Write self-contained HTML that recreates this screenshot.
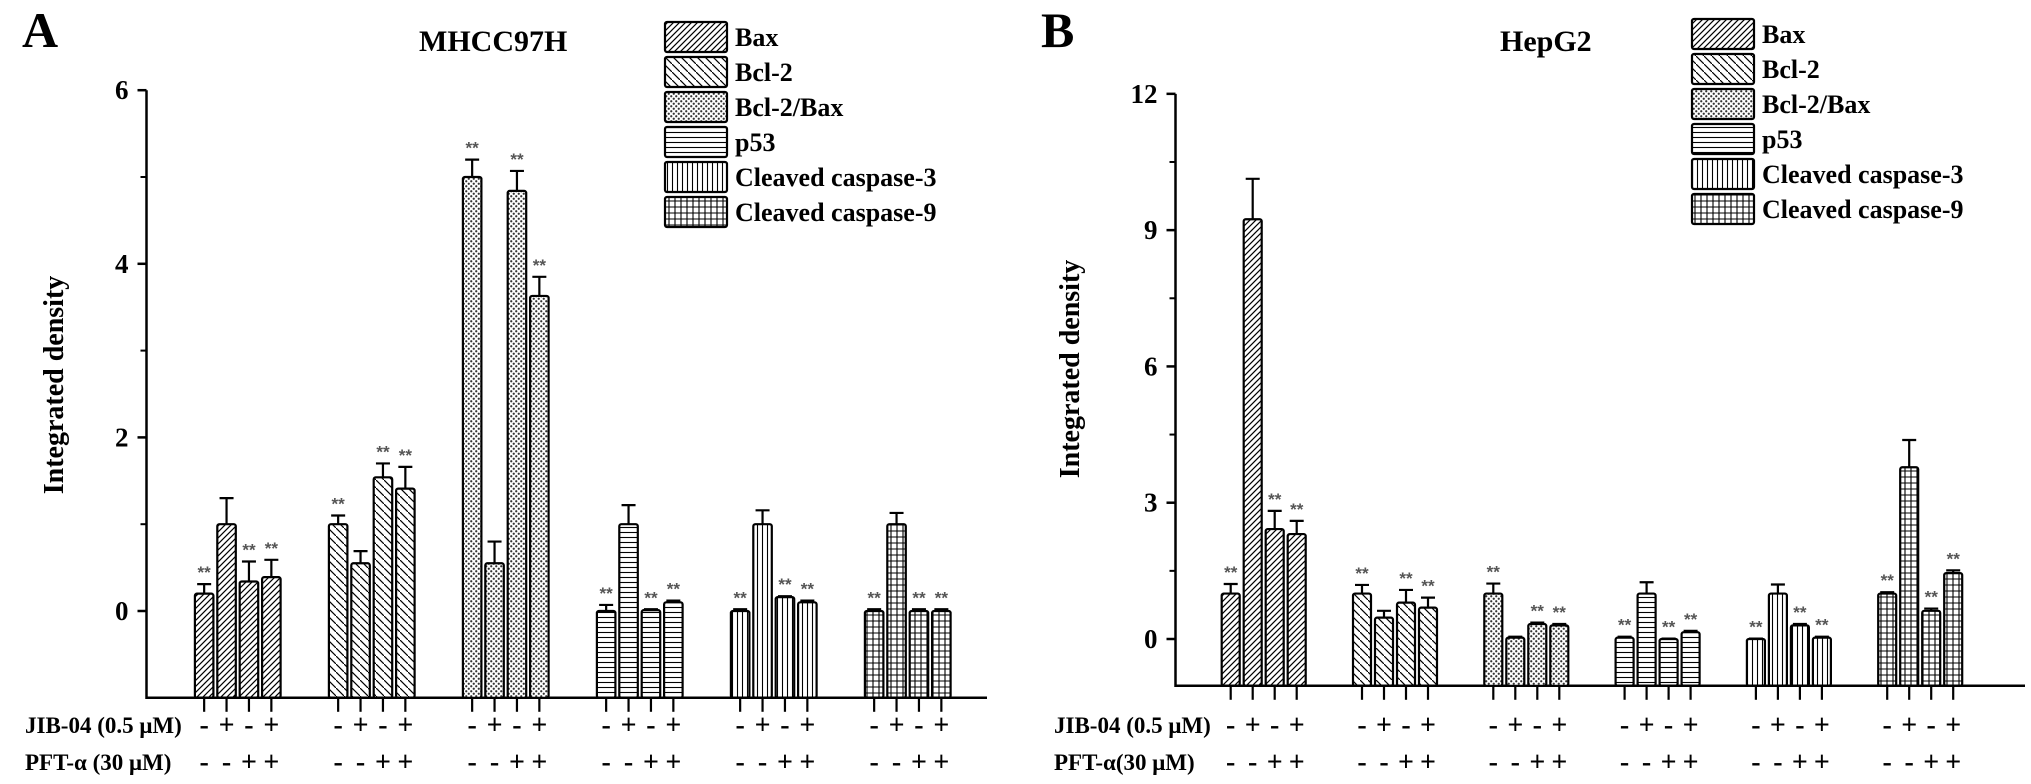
<!DOCTYPE html>
<html><head><meta charset="utf-8">
<style>
html,body{margin:0;padding:0;background:#fff;}
svg{display:block;font-family:"Liberation Serif",serif;font-weight:bold;}
</style></head>
<body>
<svg id="chart" width="2031" height="784" viewBox="0 0 2031 784" xmlns="http://www.w3.org/2000/svg">
<defs>
<pattern id="p0" patternUnits="userSpaceOnUse" width="6" height="6"><path d="M-1,1 l2,-2 M0,6 l6,-6 M5,7 l2,-2" stroke="#000" stroke-width="1.2"/></pattern>
<pattern id="p1" patternUnits="userSpaceOnUse" width="8" height="8"><path d="M-1,-1 l2,2 M0,0 l8,8 M7,9 l2,-2 M7,7 l2,2" stroke="#000" stroke-width="1.2"/></pattern>
<pattern id="p2" patternUnits="userSpaceOnUse" width="5" height="5"><rect width="5" height="5" fill="#fff"/><circle cx="1.25" cy="1.25" r="1.1" fill="#333"/><circle cx="3.75" cy="3.75" r="1.1" fill="#333"/></pattern>
<pattern id="p3" patternUnits="userSpaceOnUse" width="5" height="5"><path d="M0,2.5 h5" stroke="#000" stroke-width="1.1"/></pattern>
<pattern id="p4" patternUnits="userSpaceOnUse" width="5" height="5"><path d="M2.5,0 v5" stroke="#000" stroke-width="1.1"/></pattern>
<pattern id="p5" patternUnits="userSpaceOnUse" width="6" height="6"><path d="M3,0 v6 M0,3 h6" stroke="#000" stroke-width="1.1"/></pattern>
</defs>
<g id="root"></g>
</svg>
<script>
// ---- data ----
const seriesNames = ["Bax","Bcl-2","Bcl-2/Bax","p53","Cleaved caspase-3","Cleaved caspase-9"];
const jibSigns = ["-","+","-","+"];
const pftSigns = ["-","-","+","+"];
// Panel A (MHCC97H) values per group
const baxA   = [0.2, 1.0, 0.34, 0.39];
const bcl2A  = [1.0, 0.55, 1.54, 1.41];
const ratioA = [5.0, 0.55, 4.84, 3.63];
const p53A   = [0.0, 1.0, 0.01, 0.1];
const casp3A = [0.0, 1.0, 0.16, 0.1];
const casp9A = [0.0, 1.0, 0.0, 0.0];
const baxAErr   = [0.11, 0.3, 0.23, 0.2];
const bcl2AErr  = [0.1, 0.14, 0.16, 0.25];
const ratioAErr = [0.2, 0.25, 0.23, 0.22];
const p53AErr   = [0.07, 0.22, 0.01, 0.02];
const casp3AErr = [0.02, 0.16, 0.01, 0.02];
const casp9AErr = [0.02, 0.13, 0.02, 0.02];
// Panel B (HepG2)
const baxB   = [1.0, 9.24, 2.42, 2.31];
const bcl2B  = [1.0, 0.47, 0.8, 0.69];
const ratioB = [1.0, 0.03, 0.33, 0.3];
const p53B   = [0.03, 1.0, 0.0, 0.15];
const casp3B = [0.0, 1.0, 0.3, 0.03];
const casp9B = [1.0, 3.78, 0.62, 1.45];
const baxBErr   = [0.21, 0.89, 0.4, 0.29];
const bcl2BErr  = [0.19, 0.15, 0.28, 0.22];
const ratioBErr = [0.22, 0.02, 0.03, 0.03];
const p53BErr   = [0.02, 0.25, 0.01, 0.03];
const casp3BErr = [0.01, 0.2, 0.03, 0.02];
const casp9BErr = [0.03, 0.6, 0.05, 0.06];
const starBars = [0, 2, 3];
const ticksA = [0, 2, 4, 6];
const minorA = [-1, 1, 3, 5];
const ticksB = [0, 3, 6, 9, 12];
const minorB = [1.5, 4.5, 7.5, 10.5];

const NS = "http://www.w3.org/2000/svg";
const root = document.getElementById("root");
function mk(tag, attrs, parent, text) {
  const e = document.createElementNS(NS, tag);
  for (const k in attrs) e.setAttribute(k, attrs[k]);
  if (text !== undefined) e.textContent = text;
  (parent || root).appendChild(e);
  return e;
}

function panel(cfg) {
  const g = mk("g", {});
  
  
  const y = v => cfg.y0 - v * cfg.unit;
  const x = (gi, i) => cfg.x0 + gi * cfg.gp + i * cfg.bp;
  const yBot = y(cfg.ymin);
  const ax = mk("path", {d:`M${cfg.ax},${y(cfg.ymax)} V${yBot} H${cfg.axEnd}`, fill:"none", stroke:"#000", "stroke-width":2.5}, g);
  
  
  cfg.ticks.forEach(t => {
    mk("line", {x1:cfg.ax-9, x2:cfg.ax, y1:y(t), y2:y(t), stroke:"#000", "stroke-width":2.5}, g);
    const tl = mk("text", {x:cfg.ax-18, y:y(t)+9, "font-size":27, "text-anchor":"end"}, g, String(t));
    
    
  });
  cfg.minor.forEach(t => { if (t > cfg.ymin) mk("line", {x1:cfg.ax-6, x2:cfg.ax, y1:y(t), y2:y(t), stroke:"#000", "stroke-width":2}, g); });
  const yt = mk("text", {x:0, y:0, "font-size":28, "text-anchor":"middle", transform:`translate(${cfg.ytX},${cfg.ytY}) rotate(-90)`}, g, "Integrated density");
  
  
  const ti = mk("text", {x:cfg.titleX, y:51, "font-size":30}, g, cfg.title);
  
  
  const pl = mk("text", {x:cfg.letterX, y:47, "font-size":50}, g, cfg.letter);
  
  
  cfg.data.forEach((vals, gi) => {
    vals.forEach((v, i) => {
      const bx = x(gi, i), cx = bx + cfg.bw / 2;
      const top = y(v), e = cfg.err[gi][i];
      const ey = y(v + e);
      if (e > 0) {
        const eb = mk("path", {d:`M${cx},${top} V${ey} M${cx-7},${ey} H${cx+7}`, stroke:"#000", "stroke-width":2.2, fill:"none"}, g);
        
        
      }
      const r = mk("rect", {x:bx, y:top, width:cfg.bw, height:Math.max(0, yBot - top), fill:`url(#p${gi})`, stroke:"#000", "stroke-width":2.2, rx:2}, g);
      
      
      if (starBars.includes(i)) {
        const st = mk("text", {x:cx, y:ey - 6, "font-size":17, fill:"#555", "text-anchor":"middle", "font-family":"Liberation Sans, sans-serif"}, g, "**");
        
        
      }
      mk("line", {x1:cx, x2:cx, y1:yBot, y2:yBot+14, stroke:"#000", "stroke-width":2.2}, g);
      const j = mk("text", {x:cx, y:734, "font-size":28, "text-anchor":"middle"}, g, jibSigns[i]);
      
      
      const p = mk("text", {x:cx, y:771, "font-size":28, "text-anchor":"middle"}, g, pftSigns[i]);
      
      
    });
  });
  const jl = mk("text", {x:cfg.lblX, y:733, "font-size":23}, g, cfg.jibLabel);
  
  
  const ppl = mk("text", {x:cfg.lblX, y:770, "font-size":23}, g, cfg.pftLabel);
  
  
  const lg = mk("g", {}, g);
  
  
  seriesNames.forEach((n, k) => {
    const ly = cfg.legY + k * 35;
    const lr = mk("rect", {x:cfg.legX, y:ly, width:62, height:30, fill:`url(#p${k})`, stroke:"#000", "stroke-width":2.2, rx:2}, lg);
    
    
    const lt = mk("text", {x:cfg.legX + 70, y:ly + 24, "font-size":26}, lg, n);
    
    
  });
}

panel({name:"panel-a-mhcc97h", title:"MHCC97H", letter:"A", letterX:22, titleX:419,
  ax:146.5, axEnd:987, y0:611, unit:86.8, ymin:-1, ymax:6, ticks:ticksA, minor:minorA,
  x0:194.9, gp:134, bp:22.4, bw:18.5,
  data:[baxA,bcl2A,ratioA,p53A,casp3A,casp9A],
  err:[baxAErr,bcl2AErr,ratioAErr,p53AErr,casp3AErr,casp9AErr],
  ytX:63, ytY:385, lblX:25, jibLabel:"JIB-04 (0.5 μM)", pftLabel:"PFT-α (30 μM)",
  legX:665, legY:22});
panel({name:"panel-b-hepg2", title:"HepG2", letter:"B", letterX:1041, titleX:1500,
  ax:1175.5, axEnd:2025, y0:639, unit:45.43, ymin:-1.03, ymax:12, ticks:ticksB, minor:minorB,
  x0:1221.7, gp:131.3, bp:22, bw:18,
  data:[baxB,bcl2B,ratioB,p53B,casp3B,casp9B],
  err:[baxBErr,bcl2BErr,ratioBErr,p53BErr,casp3BErr,casp9BErr],
  ytX:1079, ytY:369, lblX:1054, jibLabel:"JIB-04 (0.5 μM)", pftLabel:"PFT-α(30 μM)",
  legX:1692, legY:19});
</script>
</body></html>
